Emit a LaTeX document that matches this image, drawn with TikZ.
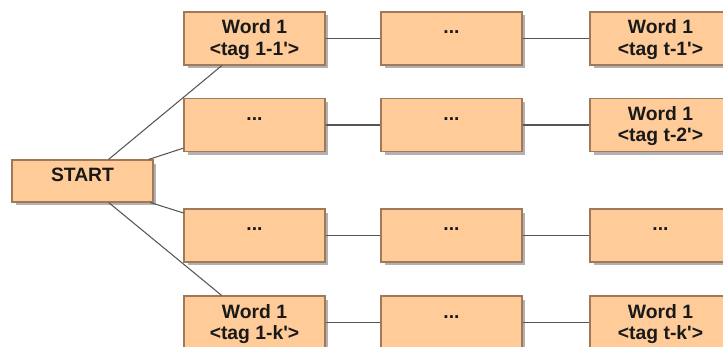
\documentclass[tikz,border=0pt]{standalone}
\usepackage{fontspec}
\setmainfont{Liberation Sans}
\usetikzlibrary{shadows}

\definecolor{cellfill}{HTML}{FFCC99}
\definecolor{celldraw}{HTML}{A07A58}
\definecolor{linkgray}{HTML}{555555}

\newcommand{\more}{...}

\begin{document}
\begin{tikzpicture}[x=0.02cm, y=-0.02cm]
    \tikzset{cell/.style={draw=celldraw, fill=cellfill, line width=0.6pt,
            inner sep=0pt, text=black!90,
            font=\fontsize{11pt}{12pt}\selectfont\bfseries,
            drop shadow={shadow xshift=0.07cm, shadow yshift=-0.07cm,
                fill=black!30, opacity=1},
            execute at begin node={\begin{minipage}[c][#1][t]{2.82cm}%
                \centering\rule{0pt}{0.44cm}},
            execute at end node={\end{minipage}}},
        cell/.default=1.06cm}
    \tikzstyle{link}=[linkgray, line width=0.6pt]

    \useasboundingbox (0,0) rectangle (723,347);

        \node[cell=0.84cm] (start) at (82.5,181) {START};

        \foreach \r/\y/\first/\last in {
            1/38.5/{Word 1\\<tag 1-1\textquotesingle>}/{Word 1\\<tag t-1\textquotesingle>},
            2/125/{\more}/{Word 1\\<tag t-2\textquotesingle>},
            3/235.5/{\more}/{\more},
            4/322.5/{Word 1\\<tag 1-k\textquotesingle>}/{Word 1\\<tag t-k\textquotesingle>}}
        {
            \node[cell] (a\r) at (254.5,\y) {\first};
            \node[cell] (b\r) at (451.5,\y) {\more};
            \node[cell] (c\r) at (660.5,\y) {\last};
            \draw[link] (a\r) -- (b\r) -- (c\r);
            \draw[link] (start) -- (a\r);
        }

    \end{tikzpicture}
\end{document}
